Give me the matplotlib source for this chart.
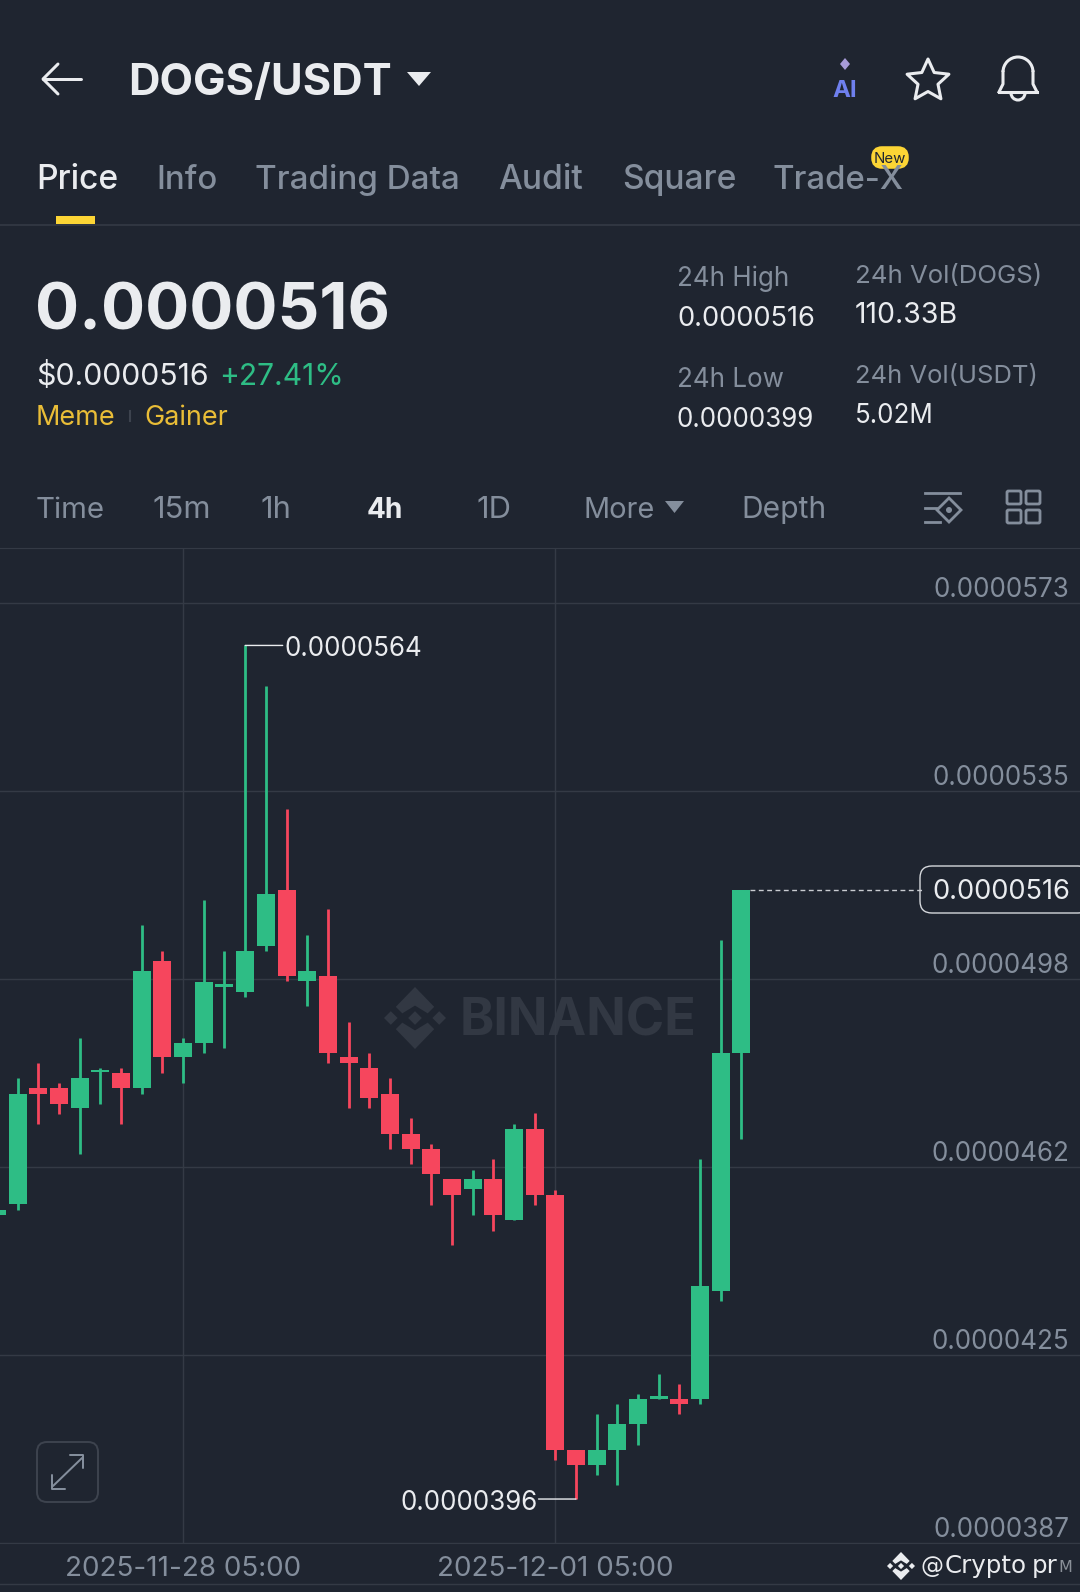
import numpy as np
import matplotlib
matplotlib.use("Agg")
import matplotlib.pyplot as plt
from matplotlib.patches import FancyBboxPatch, Polygon, Circle, Arc

plt.rcParams['font.family'] = ['Inter', 'DejaVu Sans']

BG = '#1f2530'
GRID = '#343a45'
UP = '#2ebd85'
DOWN = '#f6465d'
GRAY = '#848e9c'
WHITE = '#eaecef'
GOLD = '#e9bd37'
YELLOW = '#fcd535'

# prices in units of 1e-7, candle index -1 is the one cut off on the left
candle_idx = list(range(-1, 36))
opens = [451.9, 454.0, 477.0, 477.0, 473.0, 480.2, 480.0, 477.0, 502.1, 483.1, 486.0, 497.1, 496.1, 505.1,
         516.3, 498.2, 499.1, 483.1, 481.0, 475.9, 467.9, 464.9, 459.0, 457.0, 459.0, 450.9, 468.9,
         455.9, 405.5, 402.4, 405.5, 410.5, 415.5, 415.4, 415.5, 436.9, 484.0]
closes = [452.9, 475.9, 475.9, 473.9, 479.0, 480.6, 477.0, 500.1, 483.1, 486.0, 498.1, 497.6, 504.2, 515.4,
          499.1, 500.1, 484.0, 482.0, 475.0, 468.0, 465.0, 460.0, 455.9, 459.0, 451.9, 468.9, 455.9,
          405.5, 402.4, 405.5, 410.5, 415.5, 416.0, 414.6, 437.9, 484.0, 516.3]
highs = [452.9, 479.0, 482.0, 478.0, 487.0, 481.0, 481.0, 509.3, 504.2, 487.0, 514.3, 504.2, 564.6, 556.6,
         532.3, 507.3, 512.4, 490.0, 484.0, 479.0, 471.0, 465.9, 459.0, 460.9, 462.9, 470.0, 472.0,
         456.9, 405.5, 412.5, 414.5, 416.5, 420.5, 418.5, 462.9, 506.3, 516.3]
lows = [451.9, 452.9, 469.9, 471.9, 464.0, 473.9, 469.9, 475.9, 480.0, 478.0, 484.0, 485.0, 495.1, 504.2,
        498.2, 493.2, 482.0, 473.0, 473.0, 464.9, 461.9, 453.9, 445.9, 451.9, 448.8, 450.9, 453.9,
        403.4, 395.7, 400.5, 398.4, 406.4, 415.5, 412.5, 414.5, 434.8, 467.0]

y_ticks = [573.0, 535.8, 498.6, 461.4, 424.2, 387.0]
y_labels = ['0.0000573', '0.0000535', '0.0000498', '0.0000462', '0.0000425', '0.0000387']
x_ticks = [8, 26]
x_labels = ['2025-11-28 05:00', '2025-12-01 05:00']

W, H = 1080, 1592
fig = plt.figure(figsize=(W / 100, H / 100), dpi=100, facecolor=BG)

# page layer in pixel coordinates, for the app chrome around the chart
ui = fig.add_axes([0, 0, 1, 1], zorder=0)
ui.set_xlim(0, W)
ui.set_ylim(H, 0)
ui.axis('off')


def txt(x, base, s, px, color=GRAY, weight='normal', ha='left', family=None):
    kw = {}
    if family:
        kw['family'] = family
    return ui.text(x, base, s, fontsize=px * 0.72, color=color, weight=weight, ha=ha, va='baseline', **kw)


def line(xs, ys, color=GRAY, lw=2.0, **kw):
    ui.plot(xs, ys, color=color, lw=lw * 0.72, solid_capstyle='round', **kw)


def binance_logo(cx, cy, r, color):
    s = r * 0.22
    for dx, dy in [(0, 0), (-r * 0.78, 0), (r * 0.78, 0)]:
        ui.add_patch(Polygon([(cx + dx - s, cy + dy), (cx + dx, cy + dy - s), (cx + dx + s, cy + dy),
                              (cx + dx, cy + dy + s)], color=color, lw=0))
    for sign in (-1, 1):
        t = r * 0.3
        ui.add_patch(Polygon([(cx - r * 0.62, cy + sign * r * 0.36), (cx, cy + sign * r), (cx + r * 0.62, cy + sign * r * 0.36),
                              (cx + r * 0.62 - t * 0.7, cy + sign * (r * 0.36 - t * 0.7)), (cx, cy + sign * r * 0.4),
                              (cx - r * 0.62 + t * 0.7, cy + sign * (r * 0.36 - t * 0.7))], color=color, lw=0))


# header
line([43, 81], [79, 79], WHITE, 3)
line([58, 43, 58], [64, 79, 94], WHITE, 3)
txt(128, 95, 'DOGS/USDT', 43.5, WHITE, 'bold')
ui.add_patch(Polygon([(407, 72), (431, 72), (419, 86)], color=WHITE, lw=0))
txt(845, 97, 'AI', 24, '#6f80ee', 'bold', ha='center')
ui.add_patch(Polygon([(845, 58), (850, 64), (845, 70), (840, 64)], color='#a79bd8', lw=0))
ang = np.deg2rad(-90 + 36 * np.arange(11))
rad = np.where(np.arange(11) % 2 == 0, 22, 10.5)
ui.add_patch(Polygon(np.c_[928 + rad * np.cos(ang), 81 + rad * np.sin(ang)], fill=False, ec=WHITE, lw=2.2, joinstyle='round'))
# bell
bx = 1018
ui.plot([bx - 19, bx - 15, bx - 15], [92, 84, 72], color=WHITE, lw=2.2)
ui.plot([bx + 19, bx + 15, bx + 15], [92, 84, 72], color=WHITE, lw=2.2)
ui.add_patch(Arc((bx, 72), 30, 30, theta1=180, theta2=360, color=WHITE, lw=2.2))
ui.plot([bx - 19, bx + 19], [92, 92], color=WHITE, lw=2.2)
ui.add_patch(Arc((bx, 93), 14, 14, theta1=0, theta2=180, color=WHITE, lw=2.2))

# tabs
tab_names = ['Price', 'Info', 'Trading Data', 'Audit', 'Square', 'Trade-X']
tab_x = [36, 156, 255, 498, 622, 772]
tab_px = [33.6, 33.0, 33.2, 33.6, 33.6, 33.0]
for name, tx, tpx in zip(tab_names, tab_x, tab_px):
    txt(tx, 189, name, tpx, WHITE if name == 'Price' else GRAY, 'medium')
ui.add_patch(FancyBboxPatch((874, 149), 32, 17, boxstyle='round,pad=0,rounding_size=8', fc=YELLOW, ec=YELLOW, lw=4))
txt(890, 163, 'New', 15, '#1f2530', ha='center')
ui.add_patch(plt.Rectangle((56, 216), 39, 8, color=YELLOW, lw=0))
ui.plot([0, W], [224.5, 224.5], color=GRID, lw=1.2)

# price block
txt(35, 329, '0.0000516', 65.5, WHITE, 'bold')
txt(36, 385, '$0.0000516', 30.3, WHITE)
txt(219, 385, '+27.41%', 30, UP)
txt(36, 425, 'Meme', 27, GOLD)
ui.plot([129.5, 129.5], [411, 421], color='#3d434e', lw=1.5)
txt(144, 425, 'Gainer', 27, GOLD)
stat_x1, stat_x2 = 677, 855
txt(stat_x1, 286, '24h High', 26)
txt(stat_x1, 326, '0.0000516', 27.3, WHITE)
txt(stat_x1, 387, '24h Low', 26)
txt(stat_x1, 427, '0.0000399', 26, WHITE)
txt(stat_x2, 283, '24h Vol(DOGS)', 25.8)
txt(stat_x2, 323, '110.33B', 28.5, WHITE)
txt(stat_x2, 383, '24h Vol(USDT)', 25.6)
txt(stat_x2, 423, '5.02M', 26, WHITE)

# interval row
intervals = ['Time', '15m', '1h', '4h', '1D', 'More', 'Depth']
interval_x = [36, 152, 260, 367, 477, 583, 741]
interval_px = [29.5, 31, 31, 28, 31, 29, 30]
for name, tx, ipx in zip(intervals, interval_x, interval_px):
    if name == '4h':
        txt(tx, 518, name, ipx, WHITE, 'bold')
    else:
        txt(tx, 518, name, ipx)
ui.add_patch(Polygon([(665, 501), (684, 501), (674.5, 513)], color=GRAY, lw=0))
for y0, x0, x1 in [(493, 925, 960), (508, 925, 936), (522, 925, 940)]:
    ui.plot([x0, x1], [y0, y0], color=GRAY, lw=2)
ui.add_patch(Polygon([(949, 498), (961, 510), (949, 522), (937, 510)], fill=False, ec=GRAY, lw=2))
ui.add_patch(Circle((949, 510), 3, color=GRAY, lw=0))
for gx in (1007, 1026):
    for gy in (491, 510):
        ui.add_patch(FancyBboxPatch((gx, gy), 14, 13, boxstyle='round,pad=0,rounding_size=1.5', fill=False, ec=GRAY, lw=2))

# watermark and expand button behind the chart
binance_logo(415, 1018, 31, '#323843')
txt(460, 1036, 'BINANCE', 52, '#323843', 'bold')
ui.add_patch(FancyBboxPatch((37, 1442), 61, 60, boxstyle='round,pad=0,rounding_size=10', fill=False, ec='#3d434e', lw=1.4))
line([53, 82], [1486, 1458], GRAY, 2)
line([70, 83, 83], [1455, 1455, 1468], GRAY, 2)
line([52, 52, 65], [1475, 1489, 1489], GRAY, 2)

# chart
ax = fig.add_axes([0, (H - 1543) / H, 1, 995 / H], zorder=1)
ax.patch.set_visible(False)
ax.set_xlim(-0.856, 51.37)
ax.set_ylim(387.0, 583.88)

colors = [UP if c >= o else DOWN for o, c in zip(opens, closes)]
bottoms = [min(o, c) for o, c in zip(opens, closes)]
heights = [abs(c - o) for o, c in zip(opens, closes)]
ax.vlines(candle_idx, lows, highs, colors=colors, lw=2.0, zorder=3)
ax.bar(candle_idx, heights, width=0.87, bottom=bottoms, color=colors, lw=0, zorder=4)

ax.set_yticks(y_ticks)
ax.set_yticklabels(y_labels)
ax.set_xticks(x_ticks)
ax.set_xticklabels(x_labels)
ax.grid(True, color=GRID, lw=1.0)
ax.set_axisbelow(True)
ax.yaxis.tick_right()
ax.tick_params(axis='y', length=0, pad=-7.5, labelsize=26 * 0.72, labelcolor=GRAY)
ax.tick_params(axis='x', length=0, pad=9.5, labelsize=27.8 * 0.72, labelcolor=GRAY)
for lab in ax.get_yticklabels():
    lab.set_ha('right')
    lab.set_va('bottom')
for name, sp in ax.spines.items():
    sp.set_visible(name in ('top', 'bottom'))
    sp.set_color(GRID)

# high / low markers
leader = dict(arrowstyle='-', color=WHITE, lw=1, shrinkA=0, shrinkB=0)
ax.annotate('', xy=(candle_idx[12], highs[12]), xytext=(27, 0), textcoords='offset points', arrowprops=leader)
ax.annotate('0.0000564', xy=(candle_idx[12], highs[12]), xytext=(28, -2.5), textcoords='offset points', color=WHITE,
            fontsize=26 * 0.72, va='center', ha='left')
ax.annotate('', xy=(candle_idx[28], lows[28]), xytext=(-27, 0), textcoords='offset points', arrowprops=leader)
ax.annotate('0.0000396', xy=(candle_idx[28], lows[28]), xytext=(-27.5, -2.5), textcoords='offset points', color=WHITE,
            fontsize=26 * 0.72, va='center', ha='right')

# last price line and tag
ax.plot([candle_idx[-1] + 0.43, 43.8], [closes[-1], closes[-1]], color='#c9ccd1', lw=1, ls=(0, (3.5, 2.5)))
ui.add_patch(FancyBboxPatch((920, 866), 170, 47, boxstyle='round,pad=0,rounding_size=12', fc=BG, ec='#d5d8dc', lw=1))
txt(1070, 899, '0.0000516', 27.3, WHITE, ha='right')

# footer
ui.plot([0, W], [1584, 1584], color=GRID, lw=1)
binance_logo(901, 1566, 14, WHITE)
txt(920, 1573, '@', 23, WHITE, family='DejaVu Sans')
txt(945, 1573, 'Crypto', 24.5, WHITE, family='DejaVu Sans')
txt(1032, 1573, 'pr', 24.5, WHITE, family='DejaVu Sans')
txt(1058, 1572, 'M', 16, '#8a9098', family='DejaVu Sans')

fig.savefig('out.png', dpi=100, facecolor=BG)
